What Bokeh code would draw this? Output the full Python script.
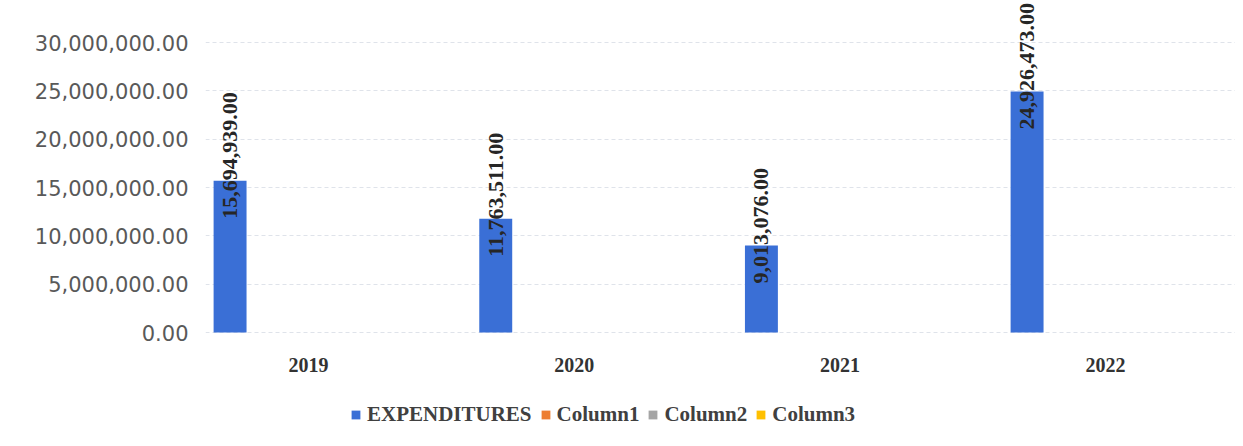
from math import pi
from bokeh.plotting import figure
from bokeh.models import (ColumnDataSource, Range1d, FixedTicker, NumeralTickFormatter,
                          LabelSet, Legend, LegendItem)
from bokeh.transform import dodge
from bokeh.embed import file_html
from bokeh.resources import INLINE

years = [2019, 2020, 2021, 2022]
year_labels = ["2019", "2020", "2021", "2022"]
expenditures = [15694939.00, 11763511.00, 9013076.00, 24926473.00]
column1 = [0, 0, 0, 0]
column2 = [0, 0, 0, 0]
column3 = [0, 0, 0, 0]
series_names = ["EXPENDITURES", "Column1", "Column2", "Column3"]
series_colors = ["#3a6fd6", "#ed7d31", "#a5a5a5", "#ffc000"]
y_ticks = [0, 5000000, 10000000, 15000000, 20000000, 25000000, 30000000]

source = ColumnDataSource(dict(
    year=years,
    year_label=year_labels,
    base=[0, 0, 0, 0],
    EXPENDITURES=expenditures,
    Column1=column1,
    Column2=column2,
    Column3=column3,
    label=[f"{v:,.2f}" for v in expenditures],
))

# frame covers the full page height; value axis 0..30M occupies y=332..42 px
p = figure(frame_width=1030, frame_height=440,
           x_range=Range1d(2018.612, 2022.489), y_range=Range1d(-11172000, 34345000),
           output_backend="svg", toolbar_location=None,
           min_border_left=205, min_border_right=0, min_border_top=0,
           min_border_bottom=0)
p.outline_line_color = None
p.background_fill_color = "white"
p.border_fill_color = "white"
p.xaxis.visible = False

step = 0.197
offsets = [-1.5 * step, -0.5 * step, 0.5 * step, 1.5 * step]
renderers = []
for name, color, off in zip(series_names, series_colors, offsets):
    r = p.vbar(x=dodge("year", off, range=p.x_range), top=name, width=0.124,
               source=source, fill_color=color, line_color=None)
    renderers.append(r)

labels = LabelSet(x=dodge("year", offsets[0], range=p.x_range), y="EXPENDITURES",
                  text="label", source=source, angle=pi / 2, y_offset=-38,
                  text_align="left", text_baseline="middle",
                  text_font="Liberation Serif", text_font_style="bold",
                  text_font_size="22px", text_color="#262626")
p.add_layout(labels)

# category (year) labels under the bars
year_text = LabelSet(x="year", y="base", text="year_label", source=source, y_offset=-32,
                     text_align="center", text_baseline="middle",
                     text_font="Liberation Serif", text_font_style="bold",
                     text_font_size="20px", text_color="#333333")
p.add_layout(year_text)

p.yaxis.ticker = FixedTicker(ticks=y_ticks)
p.yaxis.formatter = NumeralTickFormatter(format="0,0.00")
p.yaxis.axis_line_color = None
p.yaxis.major_tick_line_color = None
p.yaxis.minor_tick_line_color = None
p.yaxis.major_label_standoff = 11
p.yaxis.major_label_text_font = "DejaVu Sans"
p.yaxis.major_label_text_font_size = "21px"
p.yaxis.major_label_text_color = "#595959"

p.xgrid.grid_line_color = None
p.ygrid.grid_line_color = "#dfe3ea"
p.ygrid.grid_line_dash = "4 3"

legend = Legend(items=[LegendItem(label=n, renderers=[r]) for n, r in zip(series_names, renderers)],
                orientation="horizontal", location=(145, 13),
                glyph_width=11, glyph_height=11, label_standoff=6, spacing=8,
                padding=0, margin=0, border_line_color=None,
                background_fill_alpha=0,
                label_text_font="Liberation Serif", label_text_font_style="bold",
                label_text_font_size="21px", label_text_color="#404040")
p.add_layout(legend, "center")

open("out.html", "w").write(file_html(p, INLINE))
